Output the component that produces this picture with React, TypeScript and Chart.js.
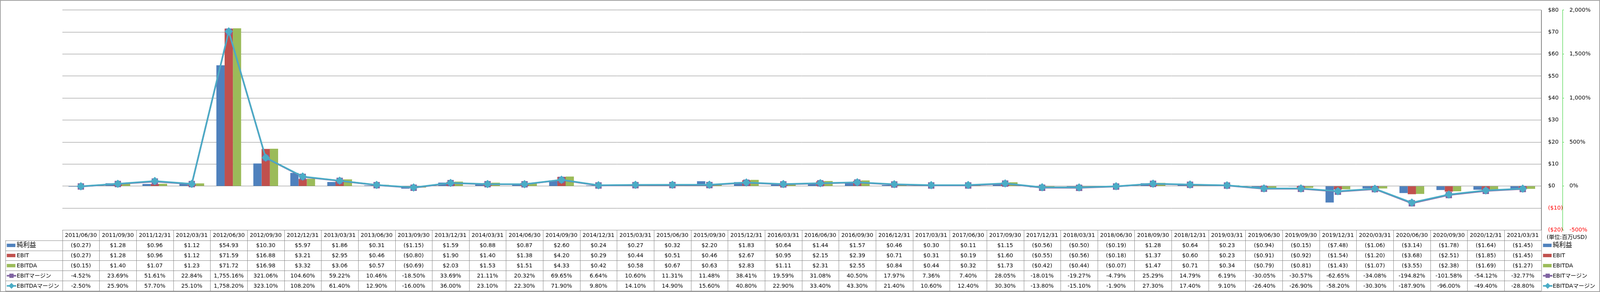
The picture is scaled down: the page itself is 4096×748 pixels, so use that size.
import React, { useEffect, useRef } from 'react';
import { Chart, registerables } from 'chart.js';

Chart.register(...registerables);

const dates = [
  '2011/06/30', '2011/09/30', '2011/12/31', '2012/03/31', '2012/06/30', '2012/09/30', '2012/12/31', '2013/03/31',
  '2013/06/30', '2013/09/30', '2013/12/31', '2014/03/31', '2014/06/30', '2014/09/30', '2014/12/31', '2015/03/31',
  '2015/06/30', '2015/09/30', '2015/12/31', '2016/03/31', '2016/06/30', '2016/09/30', '2016/12/31', '2017/03/31',
  '2017/06/30', '2017/09/30', '2017/12/31', '2018/03/31', '2018/06/30', '2018/09/30', '2018/12/31', '2019/03/31',
  '2019/06/30', '2019/09/30', '2019/12/31', '2020/03/31', '2020/06/30', '2020/09/30', '2020/12/31', '2021/03/31',
];

const netIncome = [
  -0.27, 1.28, 0.96, 1.12, 54.93, 10.30, 5.97, 1.86, 0.31, -1.15, 1.59, 0.88, 0.87, 2.60, 0.24, 0.27, 0.32, 2.20, 1.83, 0.64,
  1.44, 1.57, 0.46, 0.30, 0.11, 1.15, -0.56, -0.50, -0.19, 1.28, 0.64, 0.23, -0.94, -0.15, -7.48, -1.06, -3.14, -1.78, -1.64, -1.45,
];

const ebit = [
  -0.27, 1.28, 0.96, 1.12, 71.59, 16.88, 3.21, 2.95, 0.46, -0.80, 1.90, 1.40, 1.38, 4.20, 0.29, 0.44, 0.51, 0.46, 2.67, 0.95,
  2.15, 2.39, 0.71, 0.31, 0.19, 1.60, -0.55, -0.56, -0.18, 1.37, 0.60, 0.23, -0.91, -0.92, -1.54, -1.20, -3.68, -2.51, -1.85, -1.45,
];

const ebitda = [
  -0.15, 1.40, 1.07, 1.23, 71.72, 16.98, 3.32, 3.06, 0.57, -0.69, 2.03, 1.53, 1.51, 4.33, 0.42, 0.58, 0.67, 0.63, 2.83, 1.11,
  2.31, 2.55, 0.84, 0.44, 0.32, 1.73, -0.42, -0.44, -0.07, 1.47, 0.71, 0.34, -0.79, -0.81, -1.43, -1.07, -3.55, -2.38, -1.69, -1.27,
];

const ebitMargin = [
  -4.52, 23.69, 51.61, 22.84, 1755.16, 321.06, 104.60, 59.22, 10.46, -18.50, 33.69, 21.11, 20.32, 69.65, 6.64, 10.60, 11.31, 11.48, 38.41, 19.59,
  31.08, 40.50, 17.97, 7.36, 7.40, 28.05, -18.01, -19.27, -4.79, 25.29, 14.79, 6.19, -30.05, -30.57, -62.65, -34.08, -194.82, -101.58, -54.12, -32.77,
];

const ebitdaMargin = [
  -2.50, 25.90, 57.70, 25.10, 1758.20, 323.10, 108.20, 61.40, 12.90, -16.00, 36.00, 23.10, 22.30, 71.90, 9.80, 14.10, 14.90, 15.60, 40.80, 22.90,
  33.40, 43.30, 21.40, 10.60, 12.40, 30.30, -13.80, -15.10, -1.90, 27.30, 17.40, 9.10, -26.40, -26.90, -58.20, -30.30, -187.90, -96.00, -49.40, -28.80,
];

const seriesNames = ['純利益', 'EBIT', 'EBITDA', 'EBITマージン', 'EBITDAマージン'];
const seriesColors = ['#4F81BD', '#C0504D', '#9BBB59', '#8064A2', '#4BACC6'];
const unitLabel = '(単位:百万USD)';

const W = 4096;
const H = 748;
const FAMILY = "'DejaVu Sans', 'Noto Sans CJK JP', sans-serif";
const FS = 14.2;
const GRID = '#868686';

const fmtMoney = (v: number) => (v < 0 ? `($${(-v).toFixed(2)})` : `$${v.toFixed(2)}`);
const fmtPct = (v: number) =>
  v.toLocaleString('en-US', { minimumFractionDigits: 2, maximumFractionDigits: 2 }) + '%';

function drawKey(ctx: CanvasRenderingContext2D, k: number, x: number, y: number) {
  const c = seriesColors[k];
  ctx.fillStyle = c;
  ctx.strokeStyle = c;
  if (k < 3) {
    ctx.fillRect(x, y - 4.3, 22, 8.6);
    return;
  }
  ctx.lineWidth = 4;
  ctx.beginPath();
  ctx.moveTo(x, y);
  ctx.lineTo(x + 24, y);
  ctx.stroke();
  const cx = x + 12;
  if (k === 3) {
    ctx.fillRect(cx - 5.5, cy(y) - 5.5, 11, 11);
  } else {
    ctx.beginPath();
    ctx.moveTo(cx - 7.5, y);
    ctx.lineTo(cx, y - 7.5);
    ctx.lineTo(cx + 7.5, y);
    ctx.lineTo(cx, y + 7.5);
    ctx.closePath();
    ctx.fill();
  }
}
function cy(y: number) {
  return y;
}

const tablePlugin = {
  id: 'dataTable',
  afterDraw(chart: any) {
    const { ctx, chartArea } = chart;
    const xs = chart.scales.x;
    const n = dates.length;
    const colW = (chartArea.right - chartArea.left) / n;
    const top = chartArea.bottom;
    const headerH = 26.2;
    const rowH = 25.94;
    const left0 = 13.9;
    const right = chartArea.right;
    const bottom = top + headerH + 5 * rowH;
    const al = (v: number) => Math.round(v) + 0.5;

    ctx.save();
    ctx.strokeStyle = GRID;
    ctx.lineWidth = 1;
    const hline = (x1: number, x2: number, y: number) => {
      ctx.beginPath();
      ctx.moveTo(x1, al(y));
      ctx.lineTo(x2, al(y));
      ctx.stroke();
    };
    const vline = (x: number, y1: number, y2: number) => {
      ctx.beginPath();
      ctx.moveTo(al(x), y1);
      ctx.lineTo(al(x), y2);
      ctx.stroke();
    };
    hline(chartArea.left, right, top);
    for (let r = 0; r <= 5; r++) hline(left0, right, top + headerH + r * rowH);
    for (let i = 0; i <= n; i++) vline(chartArea.left + i * colW, top, bottom);
    vline(left0, top + headerH, bottom);
    vline(right, chartArea.top, bottom);

    // outer border
    ctx.lineWidth = 1.5;
    ctx.strokeStyle = GRID;
    ctx.strokeRect(0.75, 1.2, W - 1.5, H - 2.4);

    ctx.fillStyle = '#000';
    ctx.font = `${FS}px ${FAMILY}`;
    ctx.textAlign = 'center';
    ctx.textBaseline = 'middle';
    const rows = [netIncome, ebit, ebitda, ebitMargin, ebitdaMargin];
    for (let i = 0; i < n; i++) {
      const cx = xs.getPixelForValue(i);
      ctx.fillText(dates[i], cx, top + headerH / 2 + 0.5);
      for (let r = 0; r < 5; r++) {
        const v = rows[r][i];
        const txt = r < 3 ? fmtMoney(v) : fmtPct(v);
        ctx.fillText(txt, cx, top + headerH + r * rowH + rowH / 2 + 0.5);
      }
    }

    // row headers (left) and legend (right)
    for (let r = 0; r < 5; r++) {
      const yc = top + headerH + r * rowH + rowH / 2;
      ctx.save();
      drawKey(ctx, r, 17.4, yc);
      drawKey(ctx, r, right + 4.5, yc);
      ctx.restore();
      ctx.fillStyle = '#000';
      ctx.textAlign = 'left';
      ctx.font = `${r === 0 ? 16.5 : FS}px ${FAMILY}`;
      ctx.fillText(seriesNames[r], 42.7, yc + 0.5);
      ctx.fillText(seriesNames[r], right + 29.5, yc + 0.5);
    }

    ctx.font = `${FS}px ${FAMILY}`;
    ctx.textAlign = 'center';
    ctx.fillText(unitLabel, 4011, top + headerH * 0.72);
    ctx.restore();
  },
};

export default function App() {
  const ref = useRef<HTMLCanvasElement | null>(null);

  useEffect(() => {
    document.body.style.margin = '0';
    document.body.style.overflow = 'hidden';
    const canvas = ref.current;
    if (!canvas) return;
    const negRed = (c: any) => (c.tick && c.tick.value < 0 ? '#FF0000' : '#000000');
    const chart = new Chart(canvas, {
      type: 'bar',
      data: {
        labels: dates,
        datasets: [
          { type: 'bar', label: seriesNames[0], data: netIncome, backgroundColor: seriesColors[0], yAxisID: 'y', order: 2 },
          { type: 'bar', label: seriesNames[1], data: ebit, backgroundColor: seriesColors[1], yAxisID: 'y', order: 2 },
          { type: 'bar', label: seriesNames[2], data: ebitda, backgroundColor: seriesColors[2], yAxisID: 'y', order: 2 },
          {
            type: 'line', label: seriesNames[3], data: ebitMargin, yAxisID: 'y2', order: 1,
            borderColor: seriesColors[3], backgroundColor: seriesColors[3], borderWidth: 4,
            pointStyle: 'rect', pointRadius: 11.5, pointBackgroundColor: seriesColors[3],
            pointBorderColor: seriesColors[3], pointBorderWidth: 0, tension: 0, fill: false,
          },
          {
            type: 'line', label: seriesNames[4], data: ebitdaMargin, yAxisID: 'y2', order: 0,
            borderColor: seriesColors[4], backgroundColor: seriesColors[4], borderWidth: 4,
            pointStyle: 'rectRot', pointRadius: 10.7, pointBackgroundColor: seriesColors[4],
            pointBorderColor: seriesColors[4], pointBorderWidth: 0, tension: 0, fill: false,
          },
        ] as any,
      },
      options: {
        responsive: false,
        devicePixelRatio: 1,
        animation: false,
        events: [],
        layout: { padding: { left: 159.7, top: 11.6, right: 0, bottom: H - 589.4 } },
        datasets: { bar: { categoryPercentage: 0.67, barPercentage: 1.0, borderWidth: 0 } } as any,
        plugins: { legend: { display: false }, tooltip: { enabled: false } },
        scales: {
          x: { display: false, offset: true, grid: { display: false } },
          y: {
            position: 'right',
            weight: 0,
            min: -20,
            max: 80,
            ticks: {
              stepSize: 10,
              padding: 17.4,
              color: negRed,
              font: { family: FAMILY, size: FS },
              callback: (v: any) => (v < 0 ? `($${-v})` : `$${v}`),
            },
            grid: { color: GRID, lineWidth: 1, drawTicks: false },
            border: { display: true, color: GRID, width: 1 },
            afterFit: (s: any) => { s.width = 55.2; },
          },
          y2: {
            position: 'right',
            weight: 1,
            min: -500,
            max: 2000,
            ticks: {
              stepSize: 500,
              padding: 14,
              color: negRed,
              font: { family: FAMILY, size: FS },
              callback: (v: any) => Number(v).toLocaleString('en-US') + '%',
            },
            grid: { drawOnChartArea: false, color: '#22CC22', lineWidth: 1, drawTicks: true, tickLength: 3 },
            border: { display: true, color: '#22CC22', width: 1, dash: [3, 3] },
            afterFit: (s: any) => { s.width = 95.2; },
          },
        } as any,
      },
      plugins: [tablePlugin],
    });
    return () => chart.destroy();
  }, []);

  return (
    <div style={{ position: 'absolute', left: 0, top: 0, width: W, height: H, background: '#fff' }}>
      <canvas ref={ref} width={W} height={H} style={{ width: W, height: H, display: 'block' }} />
    </div>
  );
}
